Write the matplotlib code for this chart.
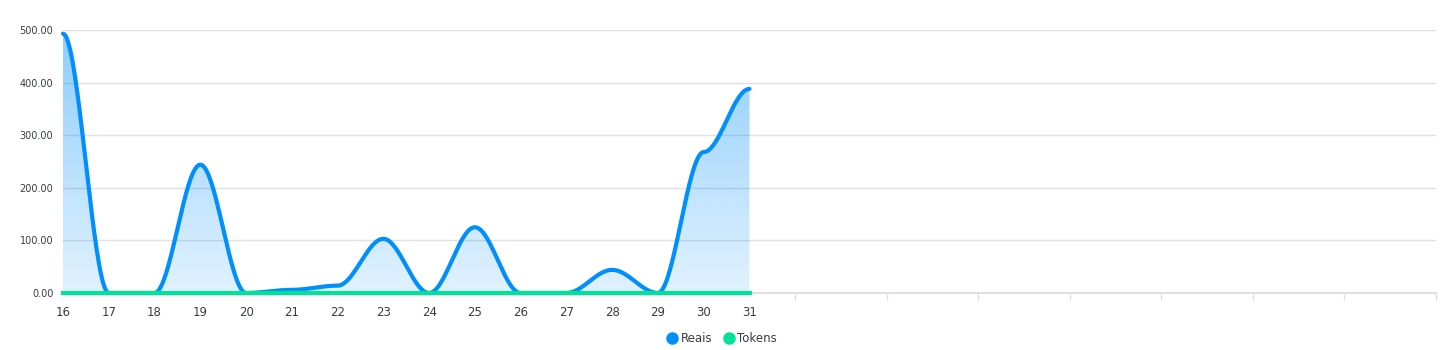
import numpy as np
import matplotlib
matplotlib.use("Agg")
import matplotlib.pyplot as plt
from matplotlib.lines import Line2D

# Data
days = ["16", "17", "18", "19", "20", "21", "22", "23",
        "24", "25", "26", "27", "28", "29", "30", "31"]
reais = [493, 0, 0, 244, 0, 6, 14, 103, 0, 125, 0, 0, 44, 0, 268, 388]
tokens = [0, 0, 0, 0, 0, 0, 0, 0, 0, 0, 0, 0, 0, 0, 0, 0]
n_slots = 31          # axis keeps room for a full month of days
y_ticks = [0, 100, 200, 300, 400, 500]

BLUE = "#008FFB"
GREEN = "#00E396"
GRID = "#e0e0e0"
TEXT = "#373d3f"


def smooth(xs, ys, steps=40):
    # apexcharts style "smooth": cubic bezier, flat tangents at every point
    px, py = [xs[0]], [ys[0]]
    t = np.linspace(0, 1, steps)[1:]
    for i in range(len(xs) - 1):
        x0, x1, y0, y1 = xs[i], xs[i + 1], ys[i], ys[i + 1]
        L = (x1 - x0) * 0.35
        cx = [x0, x0 + L, x1 - L, x1]
        cy = [y0, y0, y1, y1]
        b = [(1 - t) ** 3, 3 * (1 - t) ** 2 * t, 3 * (1 - t) * t ** 2, t ** 3]
        px.extend(sum(b[k] * cx[k] for k in range(4)))
        py.extend(sum(b[k] * cy[k] for k in range(4)))
    return np.array(px), np.array(py)


x = np.arange(len(days))
sx, sy = smooth(x, reais)
tx, ty = smooth(x, tokens)

fig = plt.figure(figsize=(14.45, 3.5), dpi=100)
ax = fig.add_axes([63 / 1445, 57 / 350, 1373 / 1445, 263 / 350])

# gradient fill under Reais
grad = np.linspace(0.45, 0.12, 256).reshape(-1, 1)
img = ax.imshow(np.dstack([np.full((256, 1), c) for c in matplotlib.colors.to_rgb(BLUE)] + [grad]),
                extent=[0, len(days) - 1, 0, 500], aspect="auto", origin="upper", zorder=1)
poly = ax.fill_between(sx, 0, sy, color="none", lw=0)
clip = poly.get_paths()[0]
img.set_clip_path(clip, transform=ax.transData)

ax.plot(sx, sy, color=BLUE, lw=3.0, solid_capstyle="round", zorder=4, clip_on=False)
ax.plot(tx, ty, color=GREEN, lw=3.0, zorder=5, clip_on=False)

ax.set_xlim(0, n_slots - 1)
ax.set_ylim(0, 500)
ax.set_yticks(y_ticks)
ax.set_yticklabels([f"{v:.2f}" for v in y_ticks], fontsize=7, color=TEXT)
ax.yaxis.grid(True, color=GRID, lw=1)
ax.set_axisbelow(True)
ax.tick_params(axis="y", length=0, pad=7)

ax.set_xticks(x)
ax.set_xticklabels(days, fontsize=8.5, color=TEXT)
ax.set_xticks(np.arange(0, n_slots, 2), minor=True)
ax.tick_params(axis="x", which="major", length=0, pad=9)
ax.tick_params(axis="x", which="minor", length=5, color=GRID, width=1)

for s in ["top", "right", "left"]:
    ax.spines[s].set_visible(False)
ax.spines["bottom"].set_color(GRID)
ax.spines["bottom"].set_linewidth(1.5)

handles = [Line2D([], [], marker="o", ls="", color=BLUE, markersize=8, label="Reais"),
           Line2D([], [], marker="o", ls="", color=GREEN, markersize=8, label="Tokens")]
fig.legend(handles=handles, loc="center", bbox_to_anchor=(722 / 1445, 1 - 339 / 350), ncol=2,
           frameon=False, fontsize=8.5, handletextpad=0.3, columnspacing=1.0,
           labelcolor=TEXT, handlelength=0.8)

fig.savefig("out.png", dpi=100, facecolor="white")
